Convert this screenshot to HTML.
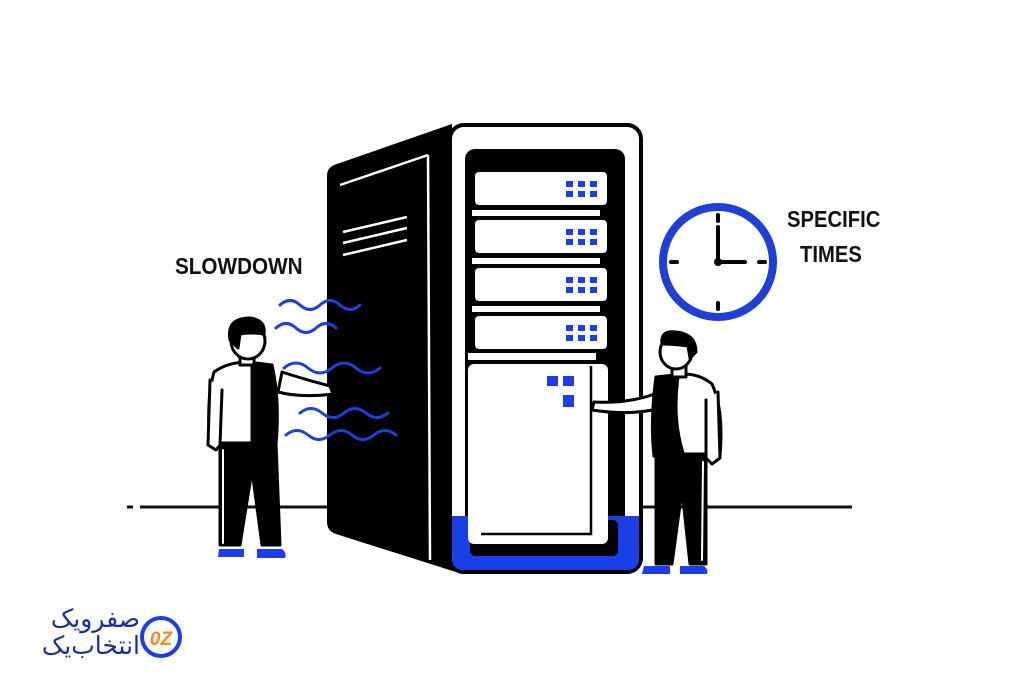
<!DOCTYPE html>
<html><head><meta charset="utf-8"><style>
html,body{margin:0;padding:0;background:#fff;width:1024px;height:683px;overflow:hidden;position:relative}
svg{display:block}
text{font-family:"Liberation Sans","DejaVu Sans",sans-serif}
.logo{position:absolute;width:130px;text-align:right;color:#1a2f9a;font-family:"DejaVu Sans",sans-serif;font-size:25px;line-height:27px;direction:rtl}
</style></head><body>
<svg width="1024" height="683" viewBox="0 0 1024 683" xmlns="http://www.w3.org/2000/svg">
<rect width="1024" height="683" fill="#fff"/>
<line x1="127" y1="507" x2="133" y2="507" stroke="#111" stroke-width="3"/>
<line x1="140" y1="507" x2="330" y2="507" stroke="#111" stroke-width="3"/>
<line x1="640" y1="507" x2="852" y2="507" stroke="#111" stroke-width="3"/>
<path d="M334 165 L452 124 L456 572 L336 534 Q327 531 327 522 L327 176 Q327 168 334 165 Z" fill="#000"/>
<line x1="340" y1="185" x2="428" y2="155" stroke="#fff" stroke-width="2.5"/>
<line x1="428" y1="155" x2="430" y2="560" stroke="#fff" stroke-width="2.5"/>
<line x1="343" y1="232" x2="407" y2="217" stroke="#fff" stroke-width="2.5"/>
<line x1="343" y1="243" x2="407" y2="228" stroke="#fff" stroke-width="2.5"/>
<line x1="343" y1="255" x2="407" y2="240" stroke="#fff" stroke-width="2.5"/>
<rect x="450" y="125" width="191" height="447" rx="14" fill="#fff" stroke="#000" stroke-width="4"/>
<path d="M452 516 H639 V558 Q639 570 627 570 H464 Q452 570 452 558 Z" fill="#1a3ee8"/>
<rect x="465" y="149" width="160" height="412" rx="10" fill="#000"/>
<path d="M465 516 H625 V551 Q625 561 615 561 H475 Q465 561 465 551 Z" fill="#1a3ee8"/>
<rect x="470" y="520" width="148" height="36" rx="5" fill="#000"/>
<g fill="#fff">
<rect x="475" y="172" width="132" height="33" rx="4"/>
<rect x="472" y="210" width="128" height="6"/>
<rect x="475" y="220" width="132" height="33" rx="4"/>
<rect x="472" y="258" width="128" height="6"/>
<rect x="475" y="268" width="132" height="33" rx="4"/>
<rect x="472" y="306" width="128" height="6"/>
<rect x="475" y="316" width="132" height="33" rx="4"/>
<rect x="468" y="353" width="128" height="7"/>
<rect x="468" y="364" width="140" height="180" rx="6"/>
</g>
<path d="M591 366 V534 H481" fill="none" stroke="#000" stroke-width="2.5"/>
<g fill="#1a3ee8">
<g id="g1"><rect x="566" y="181" width="7" height="6"/><rect x="578" y="181" width="7" height="6"/><rect x="590" y="181" width="7" height="6"/><rect x="566" y="191" width="7" height="6"/><rect x="578" y="191" width="7" height="6"/><rect x="590" y="191" width="7" height="6"/></g>
<use href="#g1" y="48"/><use href="#g1" y="96"/><use href="#g1" y="144"/>
<rect x="547" y="376" width="11" height="10"/><rect x="563" y="376" width="11" height="10"/><rect x="563" y="395" width="11" height="12"/>
</g>
<g fill="none" stroke="#1f3fd6" stroke-width="3" stroke-linecap="round">
<path d="M280 305 q10 -9 20 0 t20 0 t20 0 t20 0"/>
<path d="M276 328 q10 -9 20 0 t20 0 t20 0"/>
<path d="M284 368 q12 -10 24 0 t24 0 t24 0 t24 0"/>
<path d="M300 413 q11 -9 22 0 t22 0 t22 0 t22 0"/>
<path d="M286 435 q11 -9 22 0 t22 0 t22 0 t22 0 t22 0"/>
</g>
<g stroke="#000" stroke-width="3" stroke-linejoin="round" stroke-linecap="round">
<path d="M282 372 Q300 378 330 386 L333 394 Q300 398 278 392 Z" fill="#fff"/>
<path d="M214 372 Q228 362 248 362 L272 365 L276 445 L210 445 Q206 400 214 372 Z" fill="#fff"/>
<path d="M252 365 L272 365 Q280 400 276 445 L252 445 Z" fill="#000"/>
<path d="M210 380 L208 445 L216 450 L220 445 L222 390" fill="#fff"/>
<path d="M220 443 L276 443 L280 545 L262 545 L252 470 L240 545 L220 545 Z" fill="#000"/>
<line x1="223" y1="450" x2="223" y2="543" stroke="#fff" stroke-width="2"/>
<rect x="240" y="353" width="14" height="12" fill="#fff"/>
<ellipse cx="248" cy="341" rx="17" ry="18" fill="#fff"/>
<path d="M230 340 Q226 318 250 318 Q266 320 264 334 Q250 332 240 334 L238 348 Z" fill="#000"/>
</g>
<path d="M219 549 H244 V557 H218 Z M257 549 H282 Q287 553 285 558 H257 Z" fill="#1a3ee8"/>
<g stroke="#000" stroke-width="3" stroke-linejoin="round" stroke-linecap="round">
<path d="M660 392 Q630 404 594 402 L592 410 Q630 416 662 408 Z" fill="#fff"/>
<path d="M712 384 Q700 374 684 374 L656 377 L654 456 L720 456 Q724 410 712 384 Z" fill="#fff"/>
<path d="M656 377 L678 377 Q672 420 684 456 L654 456 Q650 420 656 377 Z" fill="#000"/>
<path d="M718 392 L720 458 L712 464 L706 458 L706 400" fill="#fff"/>
<path d="M656 454 L706 454 L706 564 L690 564 L682 490 L672 564 L656 564 Z" fill="#000"/>
<line x1="703" y1="462" x2="702" y2="560" stroke="#fff" stroke-width="2"/>
<rect x="672" y="365" width="14" height="12" fill="#fff"/>
<ellipse cx="676" cy="352" rx="16" ry="17" fill="#fff"/>
<path d="M662 344 Q660 330 676 332 Q696 334 696 352 L690 358 L688 346 Q674 344 662 344 Z" fill="#000"/>
</g>
<path d="M644 566 H670 V574 H642 Z M680 566 H704 Q709 570 707 574 H680 Z" fill="#1a3ee8"/>
<circle cx="718" cy="262" r="55" fill="#fff" stroke="#1f3fd6" stroke-width="8"/>
<g stroke="#000" stroke-width="4" stroke-linecap="round">
<line x1="718" y1="262" x2="718" y2="227"/><line x1="718" y1="262" x2="745" y2="262"/>
<line x1="718" y1="215" x2="718" y2="221"/><line x1="718" y1="303" x2="718" y2="309"/>
<line x1="671" y1="262" x2="677" y2="262"/><line x1="759" y1="262" x2="765" y2="262"/>
</g>
<circle cx="718" cy="262" r="4" fill="#000"/>
<text x="175" y="274" font-size="23" font-weight="bold" fill="#111" transform="translate(175 0) scale(0.9 1) translate(-175 0)">SLOWDOWN</text>
<text x="787" y="227" font-size="23" font-weight="bold" fill="#111" transform="translate(787 0) scale(0.88 1) translate(-787 0)">SPECIFIC</text>
<text x="800" y="262" font-size="23" font-weight="bold" fill="#111" transform="translate(800 0) scale(0.88 1) translate(-800 0)">TIMES</text>
<circle cx="161" cy="637" r="19" fill="#fff" stroke="#1a3ee8" stroke-width="4"/>
<text x="161" y="645" font-size="19" font-weight="bold" font-style="italic" fill="#f28c1e" text-anchor="middle">0Z</text>
</svg>
<div class="logo" style="top:605px;left:10px">صفرویک<br>انتخاب‌یک</div>
</body></html>
